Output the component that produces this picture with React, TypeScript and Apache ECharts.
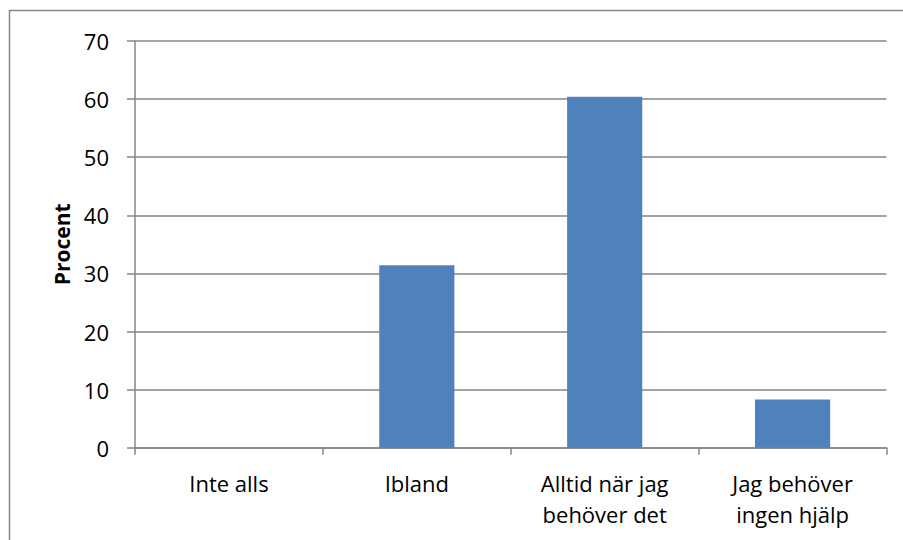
import React, { useEffect, useRef } from "react";
import * as echarts from "echarts";

const categories = ["Inte alls", "Ibland", "Alltid när jag\nbehöver det", "Jag behöver\ningen hjälp"];
const values = [0, 31.4, 60.4, 8.3];
const yName = "Procent";

export default function App() {
  const ref = useRef<HTMLDivElement>(null);
  useEffect(() => {
    document.body.style.margin = "0";
    const chart = echarts.init(ref.current!, null, { renderer: "svg" });
    const font = "Open Sans, Liberation Sans, sans-serif";
    chart.setOption({
      animation: false,
      backgroundColor: "#ffffff",
      graphic: [
        {
          type: "rect",
          shape: { x: 9.5, y: 10.5, width: 1000, height: 1000 },
          style: { fill: "none", stroke: "#888888", lineWidth: 1.5 },
          silent: true,
        },
      ],
      grid: { left: 135, right: 16.5, top: 41, bottom: 92.3 },
      xAxis: {
        type: "category",
        data: categories,
        axisLine: { lineStyle: { color: "#868686", width: 1.5 } },
        axisTick: { show: true, alignWithLabel: false, length: 7, lineStyle: { color: "#868686", width: 1.5 } },
        axisLabel: { color: "#000", fontSize: 22, fontFamily: font, margin: 20, lineHeight: 31, interval: 0 },
      },
      yAxis: {
        type: "value",
        min: 0,
        max: 70,
        interval: 10,
        name: yName,
        nameLocation: "middle",
        nameGap: 62,
        nameTextStyle: { color: "#000", fontSize: 21, fontWeight: "bold", fontFamily: font },
        axisLine: { show: true, lineStyle: { color: "#868686", width: 1.5 } },
        axisTick: { show: true, length: 8, lineStyle: { color: "#868686", width: 1.5 } },
        axisLabel: { color: "#000", fontSize: 22, fontFamily: font, margin: 26 },
        splitLine: { lineStyle: { color: "#868686", width: 1.5 } },
      },
      series: [
        {
          type: "bar",
          data: values,
          barWidth: "40%",
          itemStyle: { color: "#4F81BD" },
        },
      ],
    });
    return () => chart.dispose();
  }, []);
  return <div ref={ref} style={{ width: 903, height: 540, position: "absolute", left: 0, top: 0 }} />;
}
